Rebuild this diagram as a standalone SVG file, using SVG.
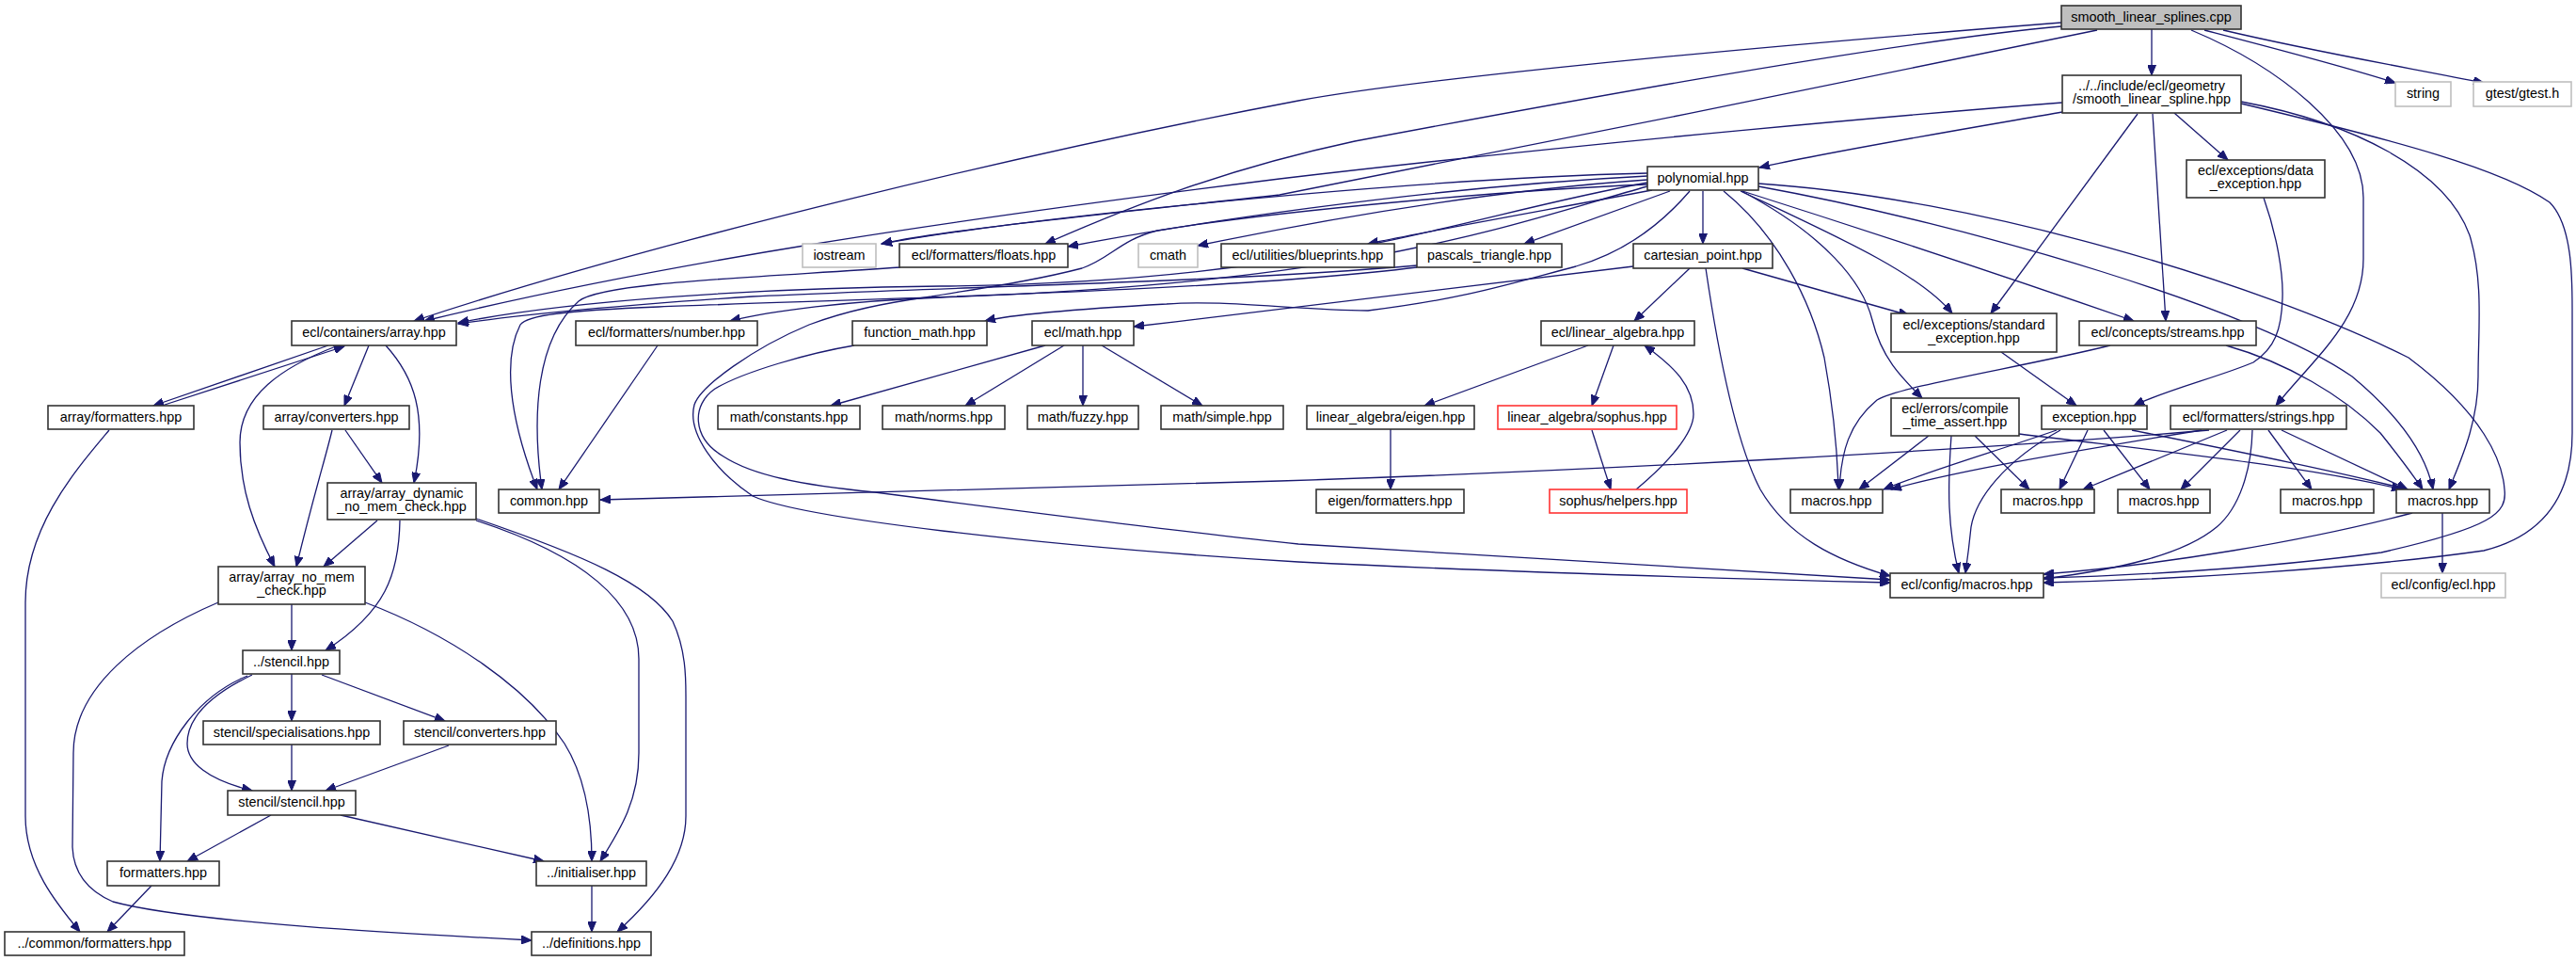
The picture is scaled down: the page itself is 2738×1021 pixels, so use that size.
<svg xmlns="http://www.w3.org/2000/svg" width="2738" height="1021" viewBox="0 0 2738 1021">
<defs>
<marker id="a" markerWidth="12" markerHeight="9" refX="11" refY="4.5" orient="auto" markerUnits="userSpaceOnUse"><path d="M0,0 L11,4.5 L0,9 z" fill="#191970" stroke="#191970" stroke-width="1"/></marker>
<style>
rect{fill:#fff;stroke:#333;stroke-width:1.6}
.gr rect{stroke:#bfbfbf}
.rd rect{stroke:#ff3333}
.root rect{fill:#bfbfbf}
text{font-family:"Liberation Sans",Arial,sans-serif;font-size:14.4px;text-anchor:middle;fill:#000}
#edges path{fill:none;stroke:#191970;stroke-width:1.3;marker-end:url(#a)}
</style>
</defs>
<rect x="0" y="0" width="2738" height="1021" style="fill:#fff;stroke:none"/>
<g id="edges">
<path d="M2287,31 L2287,80"/>
<path d="M2343,32 C2420,52 2490,70 2546,88"/>
<path d="M2363,32 C2460,55 2560,72 2640,88"/>
<path d="M2329,32 C2420,70 2512,140 2512,210 L2512,275 C2512,340 2460,380 2419,431"/>
<path d="M2191,24 C1800,55 1500,85 1380,107 C1100,160 700,255 440,341"/>
<path d="M2191,28 C2000,45 1600,120 1440,150 C1300,180 1200,220 1111,259"/>
<path d="M2229,32 C2100,60 1500,180 1360,207 C1150,230 1000,245 937,259"/>
<path d="M2192,119 C2100,135 1950,160 1870,178"/>
<path d="M2192,109 C2050,120 1700,150 1360,190 C1000,235 700,280 451,341"/>
<path d="M2311,120 L2368,170"/>
<path d="M2272,121 L2116,333"/>
<path d="M2288,121 L2302,341"/>
<path d="M2382,108 C2500,130 2600,180 2625,250 C2640,300 2634,350 2634,400 C2634,450 2615,490 2603,520"/>
<path d="M2382,110 C2550,150 2660,180 2710,215 C2735,240 2734,300 2734,333 L2734,460 C2734,530 2700,570 2640,585 C2500,605 2300,616 2172,619"/>
<path d="M1751,184 C1500,190 1100,230 937,259"/>
<path d="M1751,187 C1500,200 1250,240 1135,262"/>
<path d="M1751,191 C1550,205 1350,245 1273,261"/>
<path d="M1756,202 C1650,222 1520,245 1454,259"/>
<path d="M1775,203 L1620,259"/>
<path d="M1810,203 L1810,259"/>
<path d="M1796,203 C1760,245 1720,270 1675,283 C1610,300 1560,317 1454,330 C1380,330 1300,318 1240,323 C1150,328 1080,333 1047,341"/>
<path d="M1751,194 C1550,230 1400,300 1000,304 C800,306 600,320 487,343"/>
<path d="M1751,198 C1600,240 1450,300 1000,316 C900,320 820,330 776,341"/>
<path d="M1850,203 C1950,250 2040,290 2075,333"/>
<path d="M1851,203 C1940,250 1980,300 1990,340 C2000,380 2020,400 2043,423"/>
<path d="M1852,203 C2000,250 2150,300 2268,341"/>
<path d="M1832,203 C1890,250 1925,320 1939,380 C1948,430 1953,480 1954,520"/>
<path d="M1869,198 C2100,240 2400,330 2500,400 C2560,450 2580,490 2586,520"/>
<path d="M1869,195 C2100,210 2400,300 2560,380 C2640,440 2660,490 2662,520 C2665,545 2650,560 2531,587 C2400,605 2250,612 2172,614"/>
<path d="M1506,282 C1300,300 1000,305 800,315 C650,325 550,335 487,344"/>
<path d="M1506,284 C1300,310 900,318 700,326 C600,330 560,335 553,345 C535,380 540,440 571,520"/>
<path d="M1796,285 L1737,341"/>
<path d="M1852,285 L2029,335"/>
<path d="M1736,283 C1600,300 1400,325 1205,347"/>
<path d="M1813,285 C1830,400 1850,480 1871,520 C1900,570 1950,595 2009,612"/>
<path d="M908,367 C860,375 790,395 760,413 C735,430 735,465 769,485 C800,505 850,515 930,523 C1100,545 1300,570 1380,578 C1600,592 1850,605 2009,616"/>
<path d="M1751,196 C1600,202 1350,225 1230,245 C1190,255 1180,275 1150,285 C1100,298 1050,305 990,315 C940,322 900,330 860,345 C800,370 745,410 738,430 C730,460 760,500 800,527 C850,550 1100,580 1380,597 C1600,608 1850,615 2009,619"/>
<path d="M349,367 L163,431"/>
<path d="M172,431 L366,368"/>
<path d="M392,367 L366,431"/>
<path d="M410,367 C440,400 455,440 440,513"/>
<path d="M357,368 C300,390 255,420 255,470 C255,520 270,560 292,602"/>
<path d="M367,457 L406,513"/>
<path d="M353,457 C345,490 335,520 315,602"/>
<path d="M401,553 L344,602"/>
<path d="M425,553 C424,610 410,650 346,691"/>
<path d="M506,553 C620,590 679,640 679,700 L679,800 C679,850 660,880 638,915"/>
<path d="M506,551 C620,590 690,620 715,660 C729,690 729,720 729,740 L729,867 C729,910 700,950 656,990"/>
<path d="M116,457 C80,500 27,560 27,640 L27,867 C27,920 60,960 85,990"/>
<path d="M310,642 L310,691"/>
<path d="M232,640 C150,675 78,730 78,800 L77,900 C78,925 90,945 120,958 C200,980 430,992 565,999"/>
<path d="M388,640 C480,675 560,730 600,790 C625,830 629,880 629,915"/>
<path d="M310,716 L310,766"/>
<path d="M342,717 L473,766"/>
<path d="M268,717 C220,740 199,765 199,790 C199,810 220,828 268,840"/>
<path d="M263,718 C210,740 175,790 172,830 L170,915"/>
<path d="M310,791 L310,840"/>
<path d="M477,792 L346,840"/>
<path d="M288,866 L199,915"/>
<path d="M362,866 L578,915"/>
<path d="M161,941 L114,990"/>
<path d="M629,941 L629,990"/>
<path d="M699,367 L594,520"/>
<path d="M957,284 C800,295 640,300 615,320 C570,360 565,440 576,520"/>
<path d="M2348,457 C2100,478 1700,500 1360,511 C1000,522 750,527 638,531"/>
<path d="M1111,367 L883,431"/>
<path d="M1131,367 L1026,431"/>
<path d="M1151,367 L1151,431"/>
<path d="M1171,367 L1278,431"/>
<path d="M1688,367 L1514,431"/>
<path d="M1715,367 L1692,431"/>
<path d="M1478,456 L1478,520"/>
<path d="M1692,457 L1712,520"/>
<path d="M1739,520 C1775,490 1800,460 1800,440 C1800,410 1780,390 1748,367"/>
<path d="M2406,210 C2420,250 2427,290 2426,317 C2425,350 2418,370 2395,385 C2360,400 2300,415 2268,431"/>
<path d="M2127,374 L2207,431"/>
<path d="M2243,367 C2150,390 2020,410 1995,425 C1965,450 1957,480 1955,520"/>
<path d="M2366,367 C2430,385 2490,420 2530,460 C2550,485 2565,505 2575,520"/>
<path d="M2050,463 L1976,520"/>
<path d="M2099,463 L2157,520"/>
<path d="M2146,461 C2300,480 2450,495 2553,520"/>
<path d="M2074,463 C2070,520 2070,560 2082,609"/>
<path d="M2186,457 C2120,480 2050,500 2002,520"/>
<path d="M2219,457 L2189,520"/>
<path d="M2236,457 L2285,520"/>
<path d="M2266,457 C2380,480 2480,500 2559,520"/>
<path d="M2190,457 C2130,490 2100,530 2095,560 C2093,580 2091,595 2089,609"/>
<path d="M2340,457 C2200,480 2080,500 2010,520"/>
<path d="M2367,457 L2214,520"/>
<path d="M2381,457 L2318,520"/>
<path d="M2411,457 L2457,520"/>
<path d="M2425,457 L2559,520"/>
<path d="M2394,457 C2393,500 2380,540 2356,560 C2320,590 2250,605 2172,615"/>
<path d="M2564,545 C2450,575 2300,600 2172,610"/>
<path d="M2596,545 L2596,609"/>
</g>
<g id="n_root" class="root"><rect x="2191" y="6" width="191" height="25"/><text x="2286.5" y="23">smooth_linear_splines.cpp</text></g>
<g id="n_geom"><rect x="2192" y="80" width="190" height="40"/><text x="2287" y="96">../../include/ecl/geometry</text><text x="2287" y="110">/smooth_linear_spline.hpp</text></g>
<g id="n_string" class="gr"><rect x="2546" y="87" width="59" height="26"/><text x="2575.5" y="104">string</text></g>
<g id="n_gtest" class="gr"><rect x="2629" y="87" width="104" height="26"/><text x="2681" y="104">gtest/gtest.h</text></g>
<g id="n_poly"><rect x="1751" y="177" width="118" height="25"/><text x="1810" y="194">polynomial.hpp</text></g>
<g id="n_dataexc"><rect x="2324" y="170" width="147" height="40"/><text x="2397.5" y="186">ecl/exceptions/data</text><text x="2397.5" y="200">_exception.hpp</text></g>
<g id="n_iostream" class="gr"><rect x="853" y="259" width="78" height="25"/><text x="892" y="276">iostream</text></g>
<g id="n_floats"><rect x="956" y="259" width="179" height="25"/><text x="1045.5" y="276">ecl/formatters/floats.hpp</text></g>
<g id="n_cmath" class="gr"><rect x="1210" y="259" width="63" height="25"/><text x="1241.5" y="276">cmath</text></g>
<g id="n_blueprints"><rect x="1298" y="259" width="184" height="25"/><text x="1390" y="276">ecl/utilities/blueprints.hpp</text></g>
<g id="n_pascals"><rect x="1506" y="259" width="154" height="25"/><text x="1583" y="276">pascals_triangle.hpp</text></g>
<g id="n_cartesian"><rect x="1736" y="259" width="148" height="26"/><text x="1810" y="276">cartesian_point.hpp</text></g>
<g id="n_array"><rect x="310" y="341" width="175" height="26"/><text x="397.5" y="358">ecl/containers/array.hpp</text></g>
<g id="n_number"><rect x="612" y="341" width="193" height="26"/><text x="708.5" y="358">ecl/formatters/number.hpp</text></g>
<g id="n_funcmath"><rect x="906" y="341" width="143" height="26"/><text x="977.5" y="358">function_math.hpp</text></g>
<g id="n_eclmath"><rect x="1097" y="341" width="108" height="26"/><text x="1151" y="358">ecl/math.hpp</text></g>
<g id="n_linalg"><rect x="1638" y="341" width="163" height="26"/><text x="1719.5" y="358">ecl/linear_algebra.hpp</text></g>
<g id="n_stdexc"><rect x="2010" y="333" width="176" height="41"/><text x="2098" y="350">ecl/exceptions/standard</text><text x="2098" y="364">_exception.hpp</text></g>
<g id="n_streams"><rect x="2210" y="341" width="188" height="26"/><text x="2304" y="358">ecl/concepts/streams.hpp</text></g>
<g id="n_arrfmt"><rect x="51" y="431" width="155" height="25"/><text x="128.5" y="448">array/formatters.hpp</text></g>
<g id="n_arrconv"><rect x="280" y="431" width="155" height="25"/><text x="357.5" y="448">array/converters.hpp</text></g>
<g id="n_constants"><rect x="763" y="431" width="151" height="25"/><text x="838.5" y="448">math/constants.hpp</text></g>
<g id="n_norms"><rect x="938" y="431" width="130" height="25"/><text x="1003" y="448">math/norms.hpp</text></g>
<g id="n_fuzzy"><rect x="1092" y="431" width="118" height="25"/><text x="1151" y="448">math/fuzzy.hpp</text></g>
<g id="n_simple"><rect x="1234" y="431" width="130" height="25"/><text x="1299" y="448">math/simple.hpp</text></g>
<g id="n_laeigen"><rect x="1389" y="431" width="178" height="25"/><text x="1478" y="448">linear_algebra/eigen.hpp</text></g>
<g id="n_lasophus" class="rd"><rect x="1592" y="431" width="190" height="25"/><text x="1687" y="448">linear_algebra/sophus.hpp</text></g>
<g id="n_compile"><rect x="2010" y="423" width="136" height="40"/><text x="2078" y="439">ecl/errors/compile</text><text x="2078" y="453">_time_assert.hpp</text></g>
<g id="n_exception"><rect x="2170" y="431" width="112" height="25"/><text x="2226" y="448">exception.hpp</text></g>
<g id="n_strings"><rect x="2307" y="431" width="187" height="25"/><text x="2400.5" y="448">ecl/formatters/strings.hpp</text></g>
<g id="n_arrdyn"><rect x="348" y="513" width="158" height="39"/><text x="427" y="529">array/array_dynamic</text><text x="427" y="543">_no_mem_check.hpp</text></g>
<g id="n_common"><rect x="530" y="520" width="107" height="25"/><text x="583.5" y="537">common.hpp</text></g>
<g id="n_eigenfmt"><rect x="1399" y="520" width="157" height="25"/><text x="1477.5" y="537">eigen/formatters.hpp</text></g>
<g id="n_helpers" class="rd"><rect x="1647" y="520" width="146" height="25"/><text x="1720" y="537">sophus/helpers.hpp</text></g>
<g id="n_macros_a"><rect x="1903" y="520" width="98" height="25"/><text x="1952" y="537">macros.hpp</text></g>
<g id="n_macros_b"><rect x="2127" y="520" width="99" height="25"/><text x="2176.5" y="537">macros.hpp</text></g>
<g id="n_macros_c"><rect x="2251" y="520" width="98" height="25"/><text x="2300" y="537">macros.hpp</text></g>
<g id="n_macros_d"><rect x="2424" y="520" width="99" height="25"/><text x="2473.5" y="537">macros.hpp</text></g>
<g id="n_macros_e"><rect x="2547" y="520" width="99" height="25"/><text x="2596.5" y="537">macros.hpp</text></g>
<g id="n_arrnomem"><rect x="232" y="602" width="156" height="40"/><text x="310" y="618">array/array_no_mem</text><text x="310" y="632">_check.hpp</text></g>
<g id="n_cfgmacros"><rect x="2009" y="609" width="163" height="26"/><text x="2090.5" y="626">ecl/config/macros.hpp</text></g>
<g id="n_cfgecl" class="gr"><rect x="2531" y="609" width="132" height="26"/><text x="2597" y="626">ecl/config/ecl.hpp</text></g>
<g id="n_stencil"><rect x="258" y="691" width="103" height="25"/><text x="309.5" y="708">../stencil.hpp</text></g>
<g id="n_special"><rect x="216" y="766" width="188" height="25"/><text x="310" y="783">stencil/specialisations.hpp</text></g>
<g id="n_stconv"><rect x="429" y="766" width="162" height="25"/><text x="510" y="783">stencil/converters.hpp</text></g>
<g id="n_ststencil"><rect x="242" y="840" width="136" height="26"/><text x="310" y="857">stencil/stencil.hpp</text></g>
<g id="n_formatters"><rect x="114" y="915" width="119" height="26"/><text x="173.5" y="932">formatters.hpp</text></g>
<g id="n_initialiser"><rect x="570" y="915" width="117" height="26"/><text x="628.5" y="932">../initialiser.hpp</text></g>
<g id="n_commonfmt"><rect x="5" y="990" width="191" height="25"/><text x="100.5" y="1007">../common/formatters.hpp</text></g>
<g id="n_defs"><rect x="565" y="990" width="127" height="25"/><text x="628.5" y="1007">../definitions.hpp</text></g>
</svg>
